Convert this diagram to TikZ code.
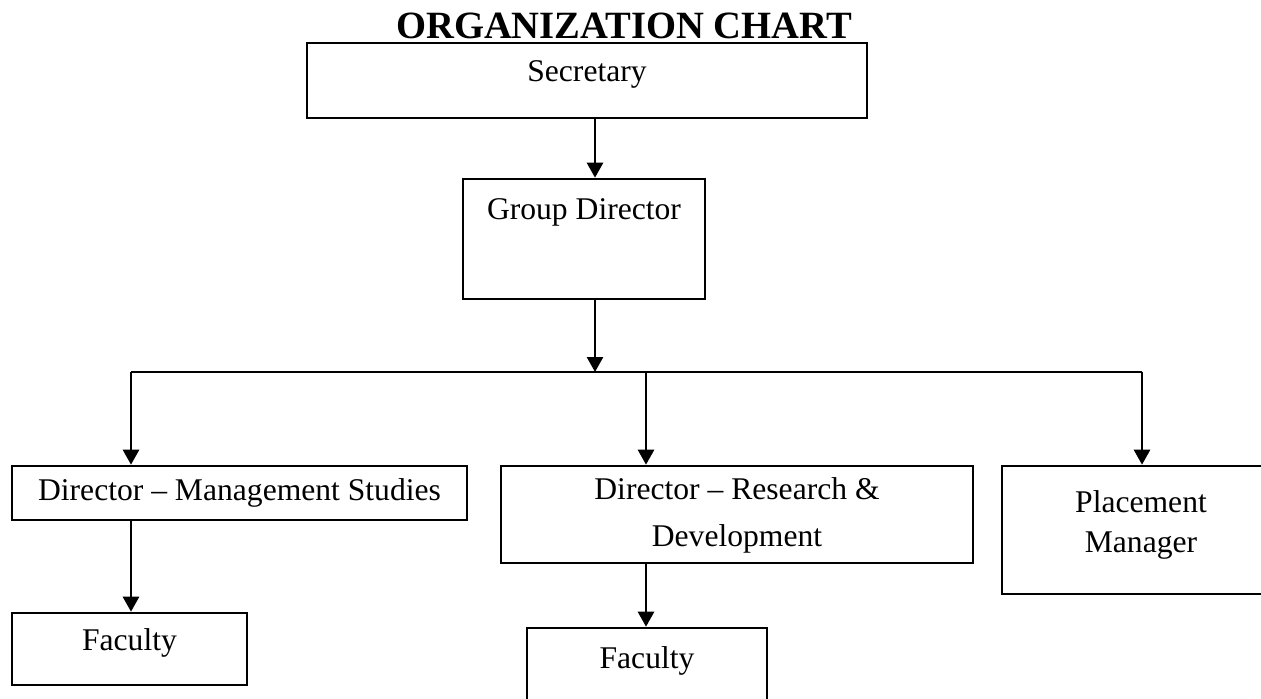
\documentclass[tikz,border=0pt]{standalone}
\usepackage{fontspec}
\setmainfont{Liberation Serif}
\usetikzlibrary{arrows.meta}
\usetikzlibrary{positioning}

\begin{document}
\begin{tikzpicture}[x=0.5pt,y=-0.5pt,
  box/.style={draw,line width=1.3pt,inner sep=0pt},
  txt/.style={inner sep=0pt,anchor=base,font=\fontsize{15.8}{18}\selectfont},
  arr/.style={line width=1.3pt,-{Triangle[width=8pt,length=7.5pt]}}]
  \useasboundingbox (0,0) rectangle (1261,698);
  \clip (0,0) rectangle (1261,698);
  \node[inner sep=0pt,anchor=base,font=\fontsize{19.3}{22}\selectfont\bfseries] (title) at (624,38) {ORGANIZATION CHART};
  % boxes
  \node[box,minimum width=280pt,minimum height=37.5pt] (sec) at (587,80.5) {};
  \node[box,minimum width=121pt,minimum height=60pt] (gd) at (584,239) {};
  \node[box,minimum width=227.5pt,minimum height=27pt] (dms) at (239.5,493) {};
  \node[box,minimum width=236pt,minimum height=48.5pt] (drd) at (737,514.5) {};
  \node[box,minimum width=139pt,minimum height=64pt] (pm) at (1141,530) {};
  \node[box,minimum width=117.5pt,minimum height=36pt] (fac1) at (129.5,649) {};
  \node[box,minimum width=120pt,minimum height=46pt] (fac2) at (647,674) {};
  % texts
  \node[txt] (secT) at (587,81) {Secretary};
  \node[txt] (gdT) at (584,219) {Group Director};
  \node[txt] (dmsT) at (239.5,500) {Director -- Management Studies};
  \node[txt] (drdT1) at (737,499) {Director -- Research \&};
  \node[txt] (drdT2) at (737,546) {Development};
  \node[txt] (pmT1) at (1141,512) {Placement};
  \node[txt] (pmT2) at (1141,552) {Manager};
  \node[txt] (fac1T) at (129.5,650) {Faculty};
  \node[txt] (fac2T) at (647,668) {Faculty};
  % connectors
  \coordinate (bus) at (595,372);
  \coordinate (busL) at (131,372);
  \coordinate (busM) at (646,372);
  \coordinate (busR) at (1142,372);
  \draw[arr] (bus |- sec.south) -- (bus |- gd.north);
  \draw[arr] (bus |- gd.south) -- (bus);
  \draw[line width=1.3pt] (busL) -- (busR);
  \draw[arr] (busL) -- (busL |- dms.north);
  \draw[arr] (busM) -- (busM |- drd.north);
  \draw[arr] (busR) -- (busR |- pm.north);
  \draw[arr] (busL |- dms.south) -- (busL |- fac1.north);
  \draw[arr] (busM |- drd.south) -- (busM |- fac2.north);
\end{tikzpicture}
\end{document}
